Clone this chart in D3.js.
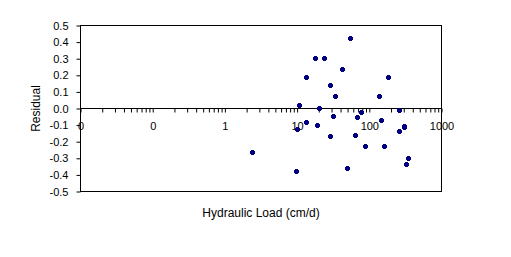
<!DOCTYPE html>
<html>
<head>
<meta charset="utf-8">
<script src="https://cdn.jsdelivr.net/npm/d3@7"></script>
<style>
  html, body { margin: 0; padding: 0; background: #fff; }
  svg text { font-family: "Liberation Sans", Arial, sans-serif; font-size: 11px; fill: #000; }
  svg text.title { font-size: 12px; }
</style>
</head>
<body>
<svg id="chart" width="511" height="257"></svg>
<script>
// hydraulic load (cm/d) and residual
const loads = [54, 17.7, 23.6, 41.9, 13.3, 179, 28.3, 33.5, 136, 10.5, 20.1, 257,
    31.4, 13.3, 66.8, 75.9, 145, 9.9, 18.7, 298, 298, 257, 28.3, 63.3, 86.1, 158,
    2.36, 339, 318, 48.6, 9.7];
const residuals = [0.424, 0.304, 0.304, 0.238, 0.19, 0.19, 0.142, 0.074, 0.074, 0.022, 0.002, -0.01,
    -0.044, -0.08, -0.052, -0.024, -0.068, -0.122, -0.098, -0.104, -0.114, -0.134, -0.166, -0.16, -0.224, -0.224,
    -0.26, -0.296, -0.332, -0.356, -0.374];
const decades = [0.01, 0.1, 1, 10, 100, 1000];
const yTicks = [-0.5, -0.4, -0.3, -0.2, -0.1, 0, 0.1, 0.2, 0.3, 0.4, 0.5];

const svg = d3.select("#chart");
const x = d3.scaleLog().domain([0.01, 1000]).range([80.5, 441.5]);
const y = d3.scaleLinear().domain([-0.5, 0.5]).range([191.5, 25.5]);

// plot area frame
svg.append("rect")
    .attr("x", x(0.01)).attr("y", y(0.5))
    .attr("width", x(1000) - x(0.01)).attr("height", y(-0.5) - y(0.5))
    .attr("fill", "none").attr("stroke", "#000").attr("stroke-width", 1);

// y axis
const yAxis = svg.append("g")
    .attr("transform", `translate(${x(0.01)},0)`)
    .call(d3.axisLeft(y).tickValues(yTicks).tickSize(4).tickPadding(8)
        .tickFormat(v => (Math.abs(v) < 1e-9 ? 0 : v).toFixed(1)));
yAxis.select(".domain").remove();
yAxis.selectAll("line").attr("stroke", "#000");
yAxis.selectAll("text").attr("font-size", null).attr("font-family", null);

// x axis on the zero line, with minor ticks
const allTicks = [];
decades.forEach(d => {
    for (let k = 1; k <= 9; k++) {
        if (d * k <= 1000) allTicks.push(d * k);
    }
});
const xAxis = svg.append("g")
    .attr("transform", `translate(0,${y(0)})`)
    .call(d3.axisBottom(x).tickValues(allTicks).tickSize(4).tickPadding(10)
        .tickFormat(v => decades.some(d => Math.abs(d - v) < 1e-9) ? String(Math.round(v)) : ""));
xAxis.select(".domain")
    .attr("d", `M${x(0.01)},0H${x(1000)}`)
    .attr("stroke", "#000");
xAxis.selectAll("line").attr("stroke", "#000");
xAxis.selectAll("text").attr("font-size", null).attr("font-family", null);

// points
const marker = "M-1.5,-2.5h3v1h1v3h-1v1h-3v-1h-1v-3h1z";
svg.append("g")
    .selectAll("path")
    .data(loads.map((l, i) => [l, residuals[i]]))
    .join("path")
    .attr("d", marker)
    .attr("transform", d => `translate(${Math.round(x(d[0])) + 0.5},${Math.round(y(d[1])) + 0.5})`)
    .attr("fill", "#000080");

// axis titles
svg.append("text")
    .attr("class", "title")
    .attr("x", (x(0.01) + x(1000)) / 2)
    .attr("y", 217)
    .attr("text-anchor", "middle")
    .text("Hydraulic Load (cm/d)");

svg.append("text")
    .attr("class", "title")
    .attr("transform", `translate(40,${y(0)}) rotate(-90)`)
    .attr("text-anchor", "middle")
    .text("Residual");
</script>
</body>
</html>
